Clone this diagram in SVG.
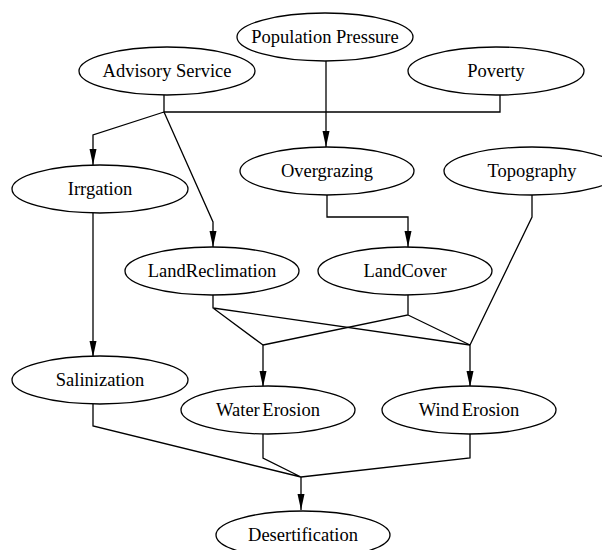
<svg xmlns="http://www.w3.org/2000/svg" width="602" height="550" viewBox="0 0 602 550">
<style>
.n ellipse{fill:#fff;stroke:#000;stroke-width:1.3}
.n text{font-family:"Liberation Serif","Times New Roman",serif;font-size:18.5px;text-anchor:middle;fill:#000}
.e path{fill:none;stroke:#000;stroke-width:1.3}
</style>
<defs>
<marker id="ah" markerUnits="userSpaceOnUse" markerWidth="16" markerHeight="8" refX="16" refY="3.5" orient="auto">
<path d="M0,0 L16,3.5 L0,7 z" fill="#000"/>
</marker>
</defs>
<rect width="602" height="550" fill="#fff"/>
<g class="e" id="connectors">
<path d="M164,95 V112 H500 V95"/>
<path d="M164,112 L93,135 V165" marker-end="url(#ah)"/>
<path d="M164,112 L213,222 V247" marker-end="url(#ah)"/>
<path d="M326,61 V147" marker-end="url(#ah)"/>
<path d="M327,195 V217 H408 V247" marker-end="url(#ah)"/>
<path d="M93,213 V357" marker-end="url(#ah)"/>
<path d="M213,295 V308 L263,345 M213,308 L470,345"/>
<path d="M408,295 V315 L263,345 M408,315 L470,345"/>
<path d="M532,195 V217 L470,345"/>
<path d="M263,345 V387" marker-end="url(#ah)"/>
<path d="M470,345 V387" marker-end="url(#ah)"/>
<path d="M93,404 V426 L301,477 M263,434 V458 L301,477 M470,434 V458 L301,477"/>
<path d="M301,477 V510" marker-end="url(#ah)"/>
</g>
<g class="n" id="population_pressure"><ellipse cx="325" cy="37" rx="88" ry="24"/><text x="325" y="43">Population Pressure</text></g>
<g class="n" id="advisory_service"><ellipse cx="167" cy="71" rx="88" ry="24"/><text x="167" y="77">Advisory Service</text></g>
<g class="n" id="poverty"><ellipse cx="496" cy="71" rx="88" ry="24"/><text x="496" y="77">Poverty</text></g>
<g class="n" id="overgrazing"><ellipse cx="327" cy="171" rx="87" ry="24"/><text x="327" y="177">Overgrazing</text></g>
<g class="n" id="topography"><ellipse cx="532" cy="171" rx="88" ry="24"/><text x="532" y="177">Topography</text></g>
<g class="n" id="irrgation"><ellipse cx="100" cy="189" rx="88" ry="24"/><text x="100" y="195">Irrgation</text></g>
<g class="n" id="land_reclimation"><ellipse cx="212" cy="271" rx="87" ry="24"/><text x="212" y="277">LandReclimation</text></g>
<g class="n" id="land_cover"><ellipse cx="405" cy="271" rx="87" ry="24"/><text x="405" y="277">LandCover</text></g>
<g class="n" id="salinization"><ellipse cx="100" cy="380" rx="88" ry="24"/><text x="100" y="386">Salinization</text></g>
<g class="n" id="water_erosion"><ellipse cx="268" cy="410" rx="87" ry="24"/><text x="268" y="416" word-spacing="-2">Water Erosion</text></g>
<g class="n" id="wind_erosion"><ellipse cx="469" cy="410" rx="87" ry="24"/><text x="469" y="416" word-spacing="-2">Wind Erosion</text></g>
<g class="n" id="desertification"><ellipse cx="303" cy="535" rx="87" ry="24"/><text x="303" y="541">Desertification</text></g>
</svg>
